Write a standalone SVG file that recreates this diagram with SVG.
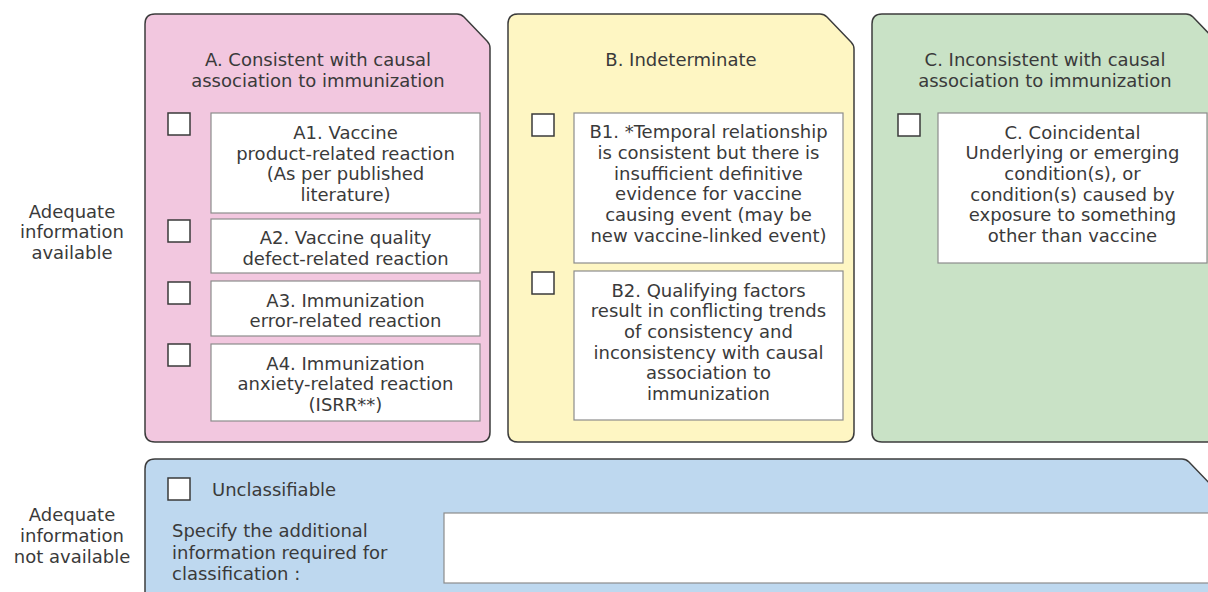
<svg xmlns="http://www.w3.org/2000/svg" width="1208" height="592" viewBox="0 0 1208 592">
<style>
text{font-family:"DejaVu Sans","Liberation Sans",sans-serif;font-size:18px;fill:#3a3a3a;}
.c{text-anchor:middle;}
.panel{stroke:#3c3c3c;stroke-width:1.5;}
.pa{fill:#f2c7df;}
.pb{fill:#fef6c3;}
.pc{fill:#c9e2c6;}
.pd{fill:#bed8ef;}
.box{fill:#ffffff;stroke:#8c8c8c;stroke-width:1.2;}
.chk{fill:#ffffff;stroke:#3a3a3a;stroke-width:1.5;}
</style>
<rect x="0" y="0" width="1208" height="592" fill="#ffffff"/>

<g id="label-available">
<text class="c" x="72" y="217.5">Adequate</text>
<text class="c" x="72" y="238">information</text>
<text class="c" x="72" y="258.5">available</text>
</g>
<g id="label-not-available">
<text class="c" x="72" y="521">Adequate</text>
<text class="c" x="72" y="542">information</text>
<text class="c" x="72" y="563">not available</text>
</g>

<g id="panel-A">
<path class="panel pa" d="M145,24 Q145,14 155,14 L457,14 Q461,14 464,17 L487,41 Q490,44 490,48 L490,432 Q490,442 480,442 L155,442 Q145,442 145,432 Z"/>
<text class="c" x="318" y="66">A. Consistent with causal</text>
<text class="c" x="318" y="87">association to immunization</text>
</g>
<g id="A1">
<rect class="chk" x="168" y="113" width="22" height="22"/>
<rect class="box" x="211" y="113" width="269" height="100"/>
<text class="c" x="345.5" y="139">A1. Vaccine</text>
<text class="c" x="345.5" y="159.7">product-related reaction</text>
<text class="c" x="345.5" y="180.4">(As per published</text>
<text class="c" x="345.5" y="201.1">literature)</text>
</g>
<g id="A2">
<rect class="chk" x="168" y="220" width="22" height="22"/>
<rect class="box" x="211" y="219" width="269" height="54"/>
<text class="c" x="345.5" y="244">A2. Vaccine quality</text>
<text class="c" x="345.5" y="264.7">defect-related reaction</text>
</g>
<g id="A3">
<rect class="chk" x="168" y="282" width="22" height="22"/>
<rect class="box" x="211" y="281" width="269" height="55"/>
<text class="c" x="345.5" y="306.5">A3. Immunization</text>
<text class="c" x="345.5" y="327.2">error-related reaction</text>
</g>
<g id="A4">
<rect class="chk" x="168" y="344" width="22" height="22"/>
<rect class="box" x="211" y="344" width="269" height="77"/>
<text class="c" x="345.5" y="369.5">A4. Immunization</text>
<text class="c" x="345.5" y="390.2">anxiety-related reaction</text>
<text class="c" x="345.5" y="410.9">(ISRR**)</text>
</g>

<g id="panel-B">
<path class="panel pb" d="M508,24 Q508,14 518,14 L820,14 Q824,14 827,17 L851,42 Q854,45 854,49 L854,432 Q854,442 844,442 L518,442 Q508,442 508,432 Z"/>
<text class="c" x="681" y="66">B. Indeterminate</text>
</g>
<g id="B1">
<rect class="chk" x="532" y="114" width="22" height="22"/>
<rect class="box" x="574" y="113" width="269" height="150"/>
<text class="c" x="708.5" y="138">B1. *Temporal relationship</text>
<text class="c" x="708.5" y="158.8">is consistent but there is</text>
<text class="c" x="708.5" y="179.6">insufficient definitive</text>
<text class="c" x="708.5" y="200.4">evidence for vaccine</text>
<text class="c" x="708.5" y="221.2">causing event (may be</text>
<text class="c" x="708.5" y="242">new vaccine-linked event)</text>
</g>
<g id="B2">
<rect class="chk" x="532" y="272" width="22" height="22"/>
<rect class="box" x="574" y="271" width="269" height="149"/>
<text class="c" x="708.5" y="296.5">B2. Qualifying factors</text>
<text class="c" x="708.5" y="317.2">result in conflicting trends</text>
<text class="c" x="708.5" y="337.9">of consistency and</text>
<text class="c" x="708.5" y="358.6">inconsistency with causal</text>
<text class="c" x="708.5" y="379.3">association to</text>
<text class="c" x="708.5" y="400">immunization</text>
</g>

<g id="panel-C">
<path class="panel pc" d="M872,24 Q872,14 882,14 L1186,14 Q1190,14 1193,17 L1217,42 Q1220,45 1220,49 L1220,432 Q1220,442 1210,442 L882,442 Q872,442 872,432 Z"/>
<text class="c" x="1045" y="66">C. Inconsistent with causal</text>
<text class="c" x="1045" y="87">association to immunization</text>
</g>
<g id="C">
<rect class="chk" x="898" y="114" width="22" height="22"/>
<rect class="box" x="938" y="113" width="269" height="150"/>
<text class="c" x="1072.5" y="138.5">C. Coincidental</text>
<text class="c" x="1072.5" y="159.2">Underlying or emerging</text>
<text class="c" x="1072.5" y="179.9">condition(s), or</text>
<text class="c" x="1072.5" y="200.6">condition(s) caused by</text>
<text class="c" x="1072.5" y="221.3">exposure to something</text>
<text class="c" x="1072.5" y="242">other than vaccine</text>
</g>

<g id="panel-unclassifiable">
<path class="panel pd" d="M145,469 Q145,459 155,459 L1182,459 Q1186,459 1189,462 L1213,487 Q1216,490 1216,494 L1216,610 L145,610 Z"/>
<rect class="chk" x="168" y="478" width="22" height="22"/>
<text x="212" y="496">Unclassifiable</text>
<text x="172" y="537">Specify the additional</text>
<text x="172" y="558.5">information required for</text>
<text x="172" y="580">classification :</text>
<rect class="box" x="444" y="513" width="770" height="70"/>
</g>

<g id="connectors"/>
</svg>
